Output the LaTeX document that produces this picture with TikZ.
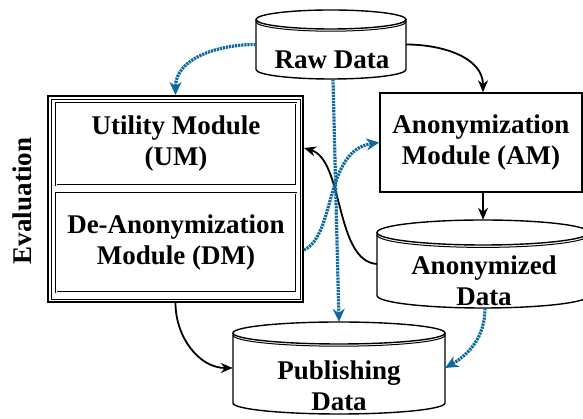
\documentclass[tikz,border=0pt]{standalone}
\usepackage{fontspec}
\setmainfont{Liberation Serif}
\usetikzlibrary{arrows.meta}
\definecolor{flowblue}{RGB}{14,106,156}
\tikzset{
  lbl/.style={font=\fontsize{27}{31}\selectfont\bfseries, align=center, inner sep=0pt},
  modbox/.style={draw, double, double distance=0.9pt, line width=0.65pt, inner sep=0pt, lbl},
  ambox/.style={draw, line width=1.4pt, inner sep=0pt, lbl},
  hidden/.style={inner sep=0pt, draw=none},
  cylline/.style={line width=1.4pt},
  flow/.style={line width=1.8pt, -{Stealth[length=12pt,width=10pt]}},
  dataflow/.style={draw=flowblue, line width=3.2pt, dash pattern=on 2.2pt off 0.9pt,
    -{Stealth[length=13pt,width=12pt]}},
}
\begin{document}
\begin{tikzpicture}[x=1pt,y=1pt]
\useasboundingbox (0,0) rectangle (583,419);

% ---- evaluation block with its two modules
\node[hidden, draw=black, line width=2pt, minimum width=255pt, minimum height=206pt] (eval) at (175.5,220) {};
\draw[line width=0.9pt] ([shift={(4,4)}]eval.south west) rectangle ([shift={(-4,-4)}]eval.north east);
\node[modbox, minimum width=240pt, minimum height=82pt] (um) at (176,275) {Utility Module\\(UM)};
\node[modbox, minimum width=240pt, minimum height=99pt] (dm) at (176,176.5) {De-Anonymization\\Module (DM)};
\node[lbl, rotate=90] (evallbl) at (22,218) {Evaluation};

% ---- anonymization module
\node[ambox, minimum width=202pt, minimum height=99pt] (am) at (481,276.5) {Anonymization\\Module (AM)};

% ---- data stores (upright cylinders)
% Raw Data
\node[hidden, minimum width=150pt, minimum height=69pt] (raw) at (331,374.5) {};
\draw[cylline, fill=white] (256,399.5) -- (256,349.5) arc[start angle=180, end angle=360, x radius=75, y radius=9.5] -- (406,399.5);
\draw[cylline, fill=white] (331,399.5) ellipse[x radius=75, y radius=9.5];
\draw[line width=1pt] (256,397.3) arc[start angle=180, end angle=360, x radius=75, y radius=9.5];
\node[lbl, anchor=base] (rawtext) at (332,350) {Raw Data};

% Anonymized Data
\node[hidden, minimum width=212pt, minimum height=88pt] (anon) at (483,155) {};
\draw[cylline, fill=white] (377,186.5) -- (377,123.5) arc[start angle=180, end angle=360, x radius=106, y radius=12.5] -- (589,186.5);
\draw[cylline, fill=white] (483,186.5) ellipse[x radius=106, y radius=12.5];
\draw[line width=1pt] (377,184.1) arc[start angle=180, end angle=360, x radius=106, y radius=12.5];
\node[lbl] (anontext) at (484,138) {Anonymized\\Data};

% Publishing Data
\node[hidden, minimum width=212pt, minimum height=92pt] (pub) at (339,51) {};
\draw[cylline, fill=white] (233,86) -- (233,16) arc[start angle=180, end angle=360, x radius=106, y radius=11] -- (445,86);
\draw[cylline, fill=white] (339,86) ellipse[x radius=106, y radius=11];
\draw[line width=1pt] (233,83.8) arc[start angle=180, end angle=360, x radius=106, y radius=11];
\node[lbl] (pubtext) at (339,33) {Publishing\\Data};

% ---- connection points on the evaluation block
\path (eval.east |- dm.center) ++(0,-7.5) coordinate (dmout);
\path (eval.east |- um.center) ++(0,-4) coordinate (umin);

% ---- black process flow
\draw[flow] (raw.east) to[out=0, in=90] ([xshift=2pt]am.north);
\draw[flow] ([xshift=2pt]am.south) -- (anon.north);
\draw[flow] (anon.west) .. controls +(-42,3) and +(40,-12) .. (umin);
\draw[flow] (eval.south) to[out=-90, in=180] (pub.west);

% ---- blue data flow
\draw[dataflow] (raw.west) to[out=180, in=90] (eval.north);
\draw[dataflow] ([xshift=2pt]raw.south) -- (pub.north);
\draw[dataflow] (dmout) .. controls +(32,15) and +(-55,-8) .. (am.west);
\draw[dataflow] ([xshift=2pt]anon.south) to[out=-90, in=30] (pub.east);
\end{tikzpicture}
\end{document}
